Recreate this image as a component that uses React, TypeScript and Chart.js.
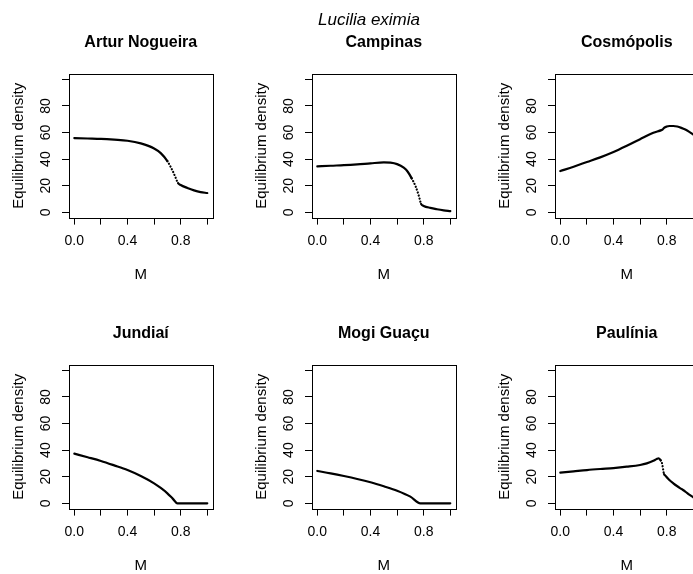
import React, { useEffect, useRef } from 'react';
import { Chart, registerables } from 'chart.js';

Chart.register(...registerables);

const MAIN_TITLE = 'Lucilia eximia';
const X_TITLE = 'M';
const Y_TITLE = 'Equilibrium density';

const X_TICKS = [0, 0.2, 0.4, 0.6, 0.8, 1.0];
const X_TICK_LABELS = ['0.0', '', '0.4', '', '0.8', ''];
const Y_TICKS = [0, 20, 40, 60, 80, 100];
const Y_TICK_LABELS = ['0', '20', '40', '60', '80', ''];

const SITES = ['Artur Nogueira', 'Campinas', 'Cosmópolis', 'Jundiaí', 'Mogi Guaçu', 'Paulínia'];

const M_ARTUR = [0, 0.1, 0.2, 0.3, 0.4, 0.5, 0.6, 0.65, 0.7, 0.72, 0.74, 0.76, 0.77, 0.775, 0.78, 0.8, 0.85, 0.9, 0.95, 1.0];
const D_ARTUR = [55.8, 55.5, 55.2, 54.6, 53.8, 51.8, 48, 44.5, 38.5, 35, 31, 26.5, 24, 23, 22, 20.5, 18.3, 16.5, 15.2, 14.5];

const M_CAMPINAS = [0, 0.1, 0.2, 0.3, 0.4, 0.5, 0.55, 0.6, 0.65, 0.68, 0.71, 0.74, 0.76, 0.77, 0.78, 0.8, 0.85, 0.9, 0.95, 1.0];
const D_CAMPINAS = [34.5, 35, 35.4, 36, 36.8, 37.5, 37.3, 36.2, 33.5, 30.5, 25.5, 19.3, 13.5, 10, 6.3, 4.8, 3.3, 2.3, 1.5, 0.9];

const M_COSMO = [0, 0.1, 0.2, 0.3, 0.4, 0.5, 0.6, 0.7, 0.76, 0.77, 0.78, 0.8, 0.82, 0.85, 0.88, 0.91, 0.94, 0.97, 1.0];
const D_COSMO = [31, 34.3, 37.8, 41.3, 45.3, 50, 55, 59.8, 61.8, 62.3, 63.5, 64.5, 64.9, 64.9, 64.5, 63.5, 62.2, 60.5, 58.5];

const M_JUNDIAI = [0, 0.1, 0.2, 0.3, 0.4, 0.5, 0.6, 0.65, 0.7, 0.74, 0.775, 0.8, 0.9, 1.0];
const D_JUNDIAI = [37.3, 34.6, 31.8, 28.5, 25, 20.5, 15, 11.5, 7.5, 3.5, 0, 0, 0, 0];

const M_MOGI = [0, 0.1, 0.2, 0.3, 0.4, 0.5, 0.6, 0.7, 0.775, 0.8, 0.9, 1.0];
const D_MOGI = [24.3, 22.5, 20.5, 18.3, 15.8, 12.8, 9.5, 5, 0, 0, 0, 0];

const M_PAULINIA = [0, 0.1, 0.2, 0.3, 0.4, 0.5, 0.6, 0.65, 0.7, 0.725, 0.74, 0.755, 0.765, 0.78, 0.79, 0.82, 0.85, 0.88, 0.91, 0.94, 0.97, 1.0];
const D_PAULINIA = [23, 24, 25, 25.8, 26.5, 27.5, 28.8, 30, 32, 33.3, 33.8, 32.3, 30, 22, 20.8, 17.5, 15, 12.8, 10.8, 8.8, 6.5, 4.5];

const PANEL_M = [M_ARTUR, M_CAMPINAS, M_COSMO, M_JUNDIAI, M_MOGI, M_PAULINIA];
const PANEL_D = [D_ARTUR, D_CAMPINAS, D_COSMO, D_JUNDIAI, D_MOGI, D_PAULINIA];

const FONT = "'Liberation Sans', Arial, Helvetica, sans-serif";
const INK = '#000';
const PANEL_W = 243;
const PANEL_H = 291;

const boxPlugin = {
  id: 'rbox',
  afterDraw(chart: any) {
    const { ctx, chartArea } = chart;
    ctx.save();
    ctx.strokeStyle = INK;
    ctx.lineWidth = 1;
    const l = Math.round(chartArea.left) + 0.5;
    const t = Math.round(chartArea.top) + 0.5;
    const r = Math.round(chartArea.right) + 0.5;
    const b = Math.round(chartArea.bottom) + 0.5;
    ctx.strokeRect(l, t, r - l, b - t);
    ctx.restore();
  },
};

function steep(ctx: any) {
  const dx = ctx.p1.x - ctx.p0.x;
  const dy = ctx.p1.y - ctx.p0.y;
  return Math.abs(dy) > 1.7 * Math.abs(dx);
}

function Panel({ idx }: { idx: number }) {
  const ref = useRef<HTMLCanvasElement | null>(null);
  useEffect(() => {
    const canvas = ref.current;
    if (!canvas) return;
    const m = PANEL_M[idx];
    const d = PANEL_D[idx];
    const chart = new Chart(canvas, {
      type: 'line',
      data: {
        datasets: [
          {
            data: m.map((x, i) => ({ x, y: d[i] })),
            borderColor: INK,
            backgroundColor: INK,
            borderWidth: 2.2,
            pointRadius: 0,
            fill: false,
            cubicInterpolationMode: 'monotone',
            borderCapStyle: 'round',
            segment: {
              borderDash: (ctx: any) => (steep(ctx) ? [0.1, 3] : undefined),
            },
          } as any,
        ],
      },
      options: {
        animation: false,
        responsive: false,
        maintainAspectRatio: false,
        devicePixelRatio: 1,
        events: [],
        layout: { padding: { left: 0, right: 30.4, top: 0, bottom: 0 } },
        plugins: {
          legend: { display: false },
          tooltip: { enabled: false },
          title: {
            display: true,
            text: SITES[idx],
            fullSize: false,
            color: INK,
            font: { family: FONT, size: 16, weight: 'bold', lineHeight: 1.2 },
            padding: { top: 33.4, bottom: 21.4 },
          },
        },
        scales: {
          x: {
            type: 'linear',
            min: -0.04,
            max: 1.04,
            afterBuildTicks: (s: any) => {
              s.ticks = X_TICKS.map((v) => ({ value: v }));
            },
            afterFit: (s: any) => {
              s.height = 73.4;
            },
            grid: { drawOnChartArea: false, drawTicks: true, tickLength: 7, color: INK, lineWidth: 1 },
            border: { display: false },
            ticks: {
              autoSkip: false,
              maxRotation: 0,
              minRotation: 0,
              padding: 8.4,
              color: INK,
              font: { family: FONT, size: 14 },
              callback: (_v: any, i: number) => X_TICK_LABELS[i],
            },
            title: {
              display: true,
              text: X_TITLE,
              color: INK,
              font: { family: FONT, size: 15, lineHeight: 1.2 },
              padding: { top: 0, bottom: 7 },
            },
          },
          y: {
            type: 'linear',
            min: -4,
            max: 104,
            afterBuildTicks: (s: any) => {
              s.ticks = Y_TICKS.map((v) => ({ value: v }));
            },
            afterFit: (s: any) => {
              s.width = 69;
            },
            grid: { drawOnChartArea: false, drawTicks: true, tickLength: 7, color: INK, lineWidth: 1 },
            border: { display: false },
            ticks: {
              autoSkip: false,
              minRotation: 90,
              maxRotation: 90,
              crossAlign: 'center',
              padding: 7.9,
              color: INK,
              font: { family: FONT, size: 14 },
              callback: (_v: any, i: number) => Y_TICK_LABELS[i],
            },
            title: {
              display: true,
              text: Y_TITLE,
              color: INK,
              font: { family: FONT, size: 15, lineHeight: 1.2 },
              padding: { top: 10, bottom: 0 },
            },
          },
        },
      } as any,
      plugins: [boxPlugin],
    });
    return () => chart.destroy();
  }, [idx]);
  const col = idx % 3;
  const row = Math.floor(idx / 3);
  return (
    <canvas
      ref={ref}
      width={PANEL_W}
      height={PANEL_H}
      style={{ position: 'absolute', left: col * PANEL_W, top: row * PANEL_H, width: PANEL_W, height: PANEL_H }}
    />
  );
}

export default function App() {
  return (
    <div
      style={{
        position: 'absolute',
        left: 0,
        top: 0,
        width: 693,
        height: 574,
        overflow: 'hidden',
        background: '#fff',
      }}
    >
      {SITES.map((_, i) => (
        <Panel key={i} idx={i} />
      ))}
      <div
        style={{
          position: 'absolute',
          left: 0,
          top: 9,
          width: 738,
          textAlign: 'center',
          fontFamily: FONT,
          fontStyle: 'italic',
          fontSize: 17,
          lineHeight: '22px',
          color: INK,
        }}
      >
        {MAIN_TITLE}
      </div>
    </div>
  );
}
